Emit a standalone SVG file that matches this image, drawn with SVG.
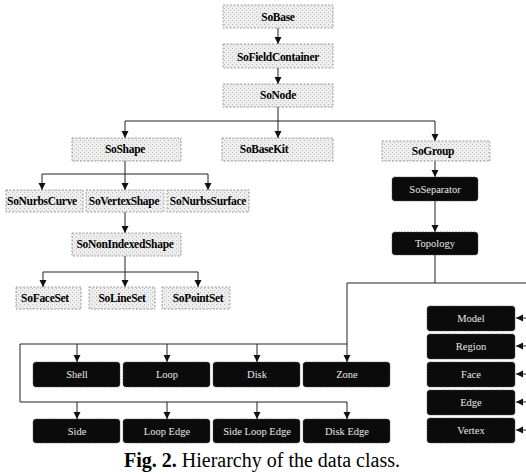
<svg xmlns="http://www.w3.org/2000/svg" width="526" height="476" viewBox="0 0 526 476">
<defs>
<marker id="ah" markerUnits="userSpaceOnUse" markerWidth="8" markerHeight="8" refX="7" refY="3.5" orient="auto">
<path d="M0,0 L7,3.5 L0,7 z" fill="#111"/>
</marker>
<pattern id="stip" patternUnits="userSpaceOnUse" width="4" height="4">
<rect width="4" height="4" fill="#eeeeee"/>
<rect x="0" y="0" width="1" height="1" fill="#b8b8b8"/>
<rect x="2" y="2" width="1" height="1" fill="#c8c8c8"/>
</pattern>
</defs>
<style>
.g{fill:url(#stip);stroke:#888;stroke-width:0.8;stroke-dasharray:2,1.5}
.gt{font-family:"Liberation Serif",serif;font-weight:bold;font-size:11.5px;fill:#000;text-anchor:middle;letter-spacing:-0.3px}
.b{fill:#0b0b0b;stroke:#555;stroke-width:0.6;stroke-dasharray:2,1}
.bt{font-family:"Liberation Serif",serif;font-size:10.5px;fill:#e8e8e8;text-anchor:middle}
.c{fill:none;stroke:#222;stroke-width:1}
.a{fill:none;stroke:#222;stroke-width:1;marker-end:url(#ah)}
.cap{font-family:"Liberation Serif",serif;font-size:20px;fill:#000;text-anchor:middle}
</style>

<g id="connectors">
<line class="a" x1="278" y1="28" x2="278" y2="44"/>
<line class="a" x1="278" y1="68" x2="278" y2="84"/>
<polyline class="c" points="278,107 278,121"/>
<line class="c" x1="125" y1="121" x2="435" y2="121"/>
<line class="a" x1="125" y1="121" x2="125" y2="138"/>
<line class="a" x1="278" y1="121" x2="278" y2="138"/>
<line class="a" x1="435" y1="121" x2="435" y2="141"/>
<line class="c" x1="125" y1="161" x2="125" y2="174"/>
<line class="c" x1="42" y1="174" x2="208" y2="174"/>
<line class="a" x1="42" y1="174" x2="42" y2="190"/>
<line class="a" x1="125" y1="174" x2="125" y2="190"/>
<line class="a" x1="208" y1="174" x2="208" y2="190"/>
<line class="a" x1="125" y1="212" x2="125" y2="233"/>
<line class="c" x1="125" y1="256" x2="125" y2="272"/>
<line class="c" x1="43" y1="272" x2="198" y2="272"/>
<line class="a" x1="43" y1="272" x2="43" y2="287"/>
<line class="a" x1="125" y1="272" x2="125" y2="287"/>
<line class="a" x1="198" y1="272" x2="198" y2="287"/>
<line class="a" x1="435" y1="161" x2="435" y2="177"/>
<line class="a" x1="435" y1="201" x2="435" y2="232"/>
<line class="c" x1="435" y1="255" x2="435" y2="283"/>
<line class="c" x1="347" y1="283" x2="526" y2="283"/>
<line class="a" x1="347" y1="283" x2="347" y2="362"/>
<line class="c" x1="20" y1="344" x2="347" y2="344"/>
<line class="a" x1="77" y1="344" x2="77" y2="362"/>
<line class="a" x1="167" y1="344" x2="167" y2="362"/>
<line class="a" x1="257" y1="344" x2="257" y2="362"/>
<line class="c" x1="20" y1="344" x2="20" y2="402"/>
<line class="c" x1="20" y1="402" x2="347" y2="402"/>
<line class="a" x1="77" y1="402" x2="77" y2="419"/>
<line class="a" x1="167" y1="402" x2="167" y2="419"/>
<line class="a" x1="257" y1="402" x2="257" y2="419"/>
<line class="a" x1="347" y1="402" x2="347" y2="419"/>
<line class="a" x1="526" y1="318" x2="516" y2="318"/>
<line class="a" x1="526" y1="346" x2="516" y2="346"/>
<line class="a" x1="526" y1="374" x2="516" y2="374"/>
<line class="a" x1="526" y1="402" x2="516" y2="402"/>
<line class="a" x1="526" y1="430" x2="516" y2="430"/>
</g>

<g id="SoBase"><rect class="g" x="223" y="5" width="110" height="23"/><text class="gt" x="278" y="21">SoBase</text></g>
<g id="SoFieldContainer"><rect class="g" x="223" y="44" width="110" height="24"/><text class="gt" x="278" y="61">SoFieldContainer</text></g>
<g id="SoNode"><rect class="g" x="223" y="84" width="110" height="23"/><text class="gt" x="278" y="99">SoNode</text></g>
<g id="SoShape"><rect class="g" x="72" y="138" width="109" height="23"/><text class="gt" x="125" y="153">SoShape</text></g>
<g id="SoBaseKit"><rect class="g" x="222" y="138" width="111" height="23"/><text class="gt" x="264" y="153">SoBaseKit</text></g>
<g id="SoGroup"><rect class="g" x="382" y="141" width="108" height="20"/><text class="gt" x="433" y="155">SoGroup</text></g>
<g id="SoNurbsCurve"><rect class="g" x="6" y="190" width="77" height="22"/><text class="gt" x="42" y="205">SoNurbsCurve</text></g>
<g id="SoVertexShape"><rect class="g" x="86" y="190" width="78" height="22"/><text class="gt" x="124" y="205">SoVertexShape</text></g>
<g id="SoNurbsSurface"><rect class="g" x="167" y="190" width="82" height="22"/><text class="gt" x="208" y="205">SoNurbsSurface</text></g>
<g id="SoNonIndexedShape"><rect class="g" x="72" y="233" width="109" height="23"/><text class="gt" x="125" y="248">SoNonIndexedShape</text></g>
<g id="SoFaceSet"><rect class="g" x="16" y="287" width="65" height="22"/><text class="gt" x="45" y="302">SoFaceSet</text></g>
<g id="SoLineSet"><rect class="g" x="89" y="287" width="66" height="22"/><text class="gt" x="122" y="302">SoLineSet</text></g>
<g id="SoPointSet"><rect class="g" x="162" y="287" width="68" height="22"/><text class="gt" x="198" y="302">SoPointSet</text></g>

<g id="SoSeparator"><rect class="b" x="392" y="177" width="86" height="24" rx="3"/><text class="bt" x="435" y="193">SoSeparator</text></g>
<g id="Topology"><rect class="b" x="392" y="232" width="86" height="23" rx="3"/><text class="bt" x="435" y="247">Topology</text></g>

<g id="Shell"><rect class="b" x="33" y="362" width="87" height="25" rx="3"/><text class="bt" x="77" y="378">Shell</text></g>
<g id="Loop"><rect class="b" x="123" y="362" width="87" height="25" rx="3"/><text class="bt" x="167" y="378">Loop</text></g>
<g id="Disk"><rect class="b" x="213" y="362" width="87" height="25" rx="3"/><text class="bt" x="257" y="378">Disk</text></g>
<g id="Zone"><rect class="b" x="303" y="362" width="87" height="25" rx="3"/><text class="bt" x="347" y="378">Zone</text></g>

<g id="Side"><rect class="b" x="33" y="419" width="87" height="24" rx="3"/><text class="bt" x="77" y="435">Side</text></g>
<g id="LoopEdge"><rect class="b" x="123" y="419" width="87" height="24" rx="3"/><text class="bt" x="167" y="435">Loop Edge</text></g>
<g id="SideLoopEdge"><rect class="b" x="213" y="419" width="87" height="24" rx="3"/><text class="bt" x="257" y="435">Side Loop Edge</text></g>
<g id="DiskEdge"><rect class="b" x="303" y="419" width="87" height="24" rx="3"/><text class="bt" x="347" y="435">Disk Edge</text></g>

<g id="Model"><rect class="b" x="427" y="306" width="88" height="25" rx="3"/><text class="bt" x="471" y="322">Model</text></g>
<g id="Region"><rect class="b" x="427" y="334" width="88" height="25" rx="3"/><text class="bt" x="471" y="350">Region</text></g>
<g id="Face"><rect class="b" x="427" y="362" width="88" height="25" rx="3"/><text class="bt" x="471" y="378">Face</text></g>
<g id="Edge"><rect class="b" x="427" y="390" width="88" height="25" rx="3"/><text class="bt" x="471" y="406">Edge</text></g>
<g id="Vertex"><rect class="b" x="427" y="418" width="88" height="25" rx="3"/><text class="bt" x="471" y="434">Vertex</text></g>

<text class="cap" x="262" y="467"><tspan font-weight="bold">Fig. 2.</tspan> Hierarchy of the data class.</text>
</svg>
